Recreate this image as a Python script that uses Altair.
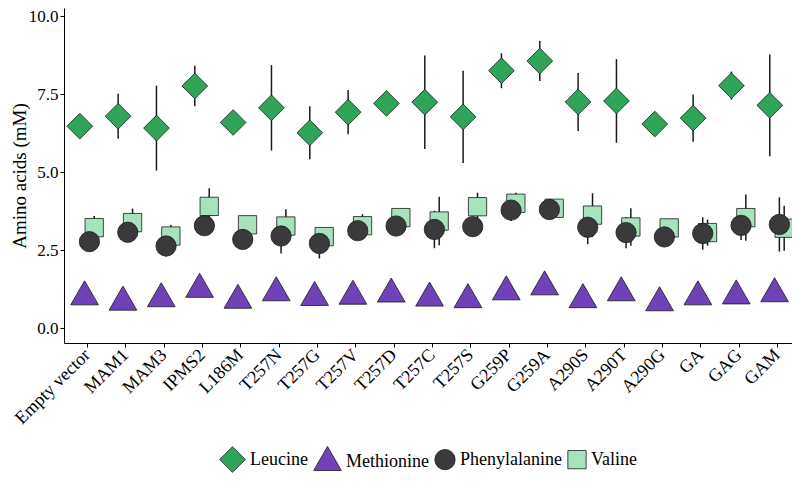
import altair as alt
import pandas as pd

categories = ["Empty vector", "MAM1", "MAM3", "IPMS2", "L186M", "T257N", "T257G",
              "T257V", "T257D", "T257C", "T257S", "G259P", "G259A", "A290S",
              "A290T", "A290G", "GA", "GAG", "GAM"]

leucine = [6.47, 6.79, 6.41, 7.76, 6.59, 7.06, 6.26, 6.92, 7.20, 7.24, 6.77,
           8.25, 8.56, 7.25, 7.28, 6.54, 6.73, 7.77, 7.14]
leucine_sd = [0.10, 0.72, 1.36, 0.65, 0.12, 1.37, 0.85, 0.71, 0.10, 1.50, 1.48,
              0.56, 0.64, 0.93, 1.34, 0.12, 0.76, 0.45, 1.63]

methionine = [1.00, 0.83, 0.94, 1.24, 0.89, 1.13, 0.98, 1.02, 1.09, 0.96, 0.91,
              1.16, 1.32, 0.91, 1.13, 0.81, 1.00, 1.03, 1.10]
methionine_sd = [0.08, 0.06, 0.07, 0.10, 0.05, 0.09, 0.06, 0.07, 0.08, 0.06, 0.05,
                 0.09, 0.10, 0.07, 0.08, 0.05, 0.06, 0.07, 0.09]

phenylalanine = [2.77, 3.07, 2.63, 3.28, 2.84, 2.95, 2.71, 3.12, 3.27, 3.16, 3.25,
                 3.78, 3.80, 3.23, 3.06, 2.92, 3.03, 3.29, 3.32]
phenylalanine_sd = [0.25, 0.20, 0.34, 0.20, 0.20, 0.56, 0.48, 0.20, 0.20, 0.60, 0.20,
                    0.35, 0.15, 0.54, 0.50, 0.20, 0.52, 0.47, 0.87]

valine = [3.22, 3.38, 2.95, 3.90, 3.31, 3.27, 2.93, 3.28, 3.54, 3.43, 3.89,
          4.00, 3.84, 3.62, 3.24, 3.21, 3.06, 3.54, 3.20]
valine_sd = [0.37, 0.45, 0.35, 0.58, 0.20, 0.54, 0.20, 0.37, 0.20, 0.78, 0.45,
             0.34, 0.25, 0.70, 0.60, 0.20, 0.42, 0.74, 0.72]

aa_domain = ["Leucine", "Methionine", "Phenylalanine", "Valine"]
aa_colors = ["#2fa55a", "#6f42b8", "#3a3a3c", "#a6e2bc"]
tri = "M0,-1.155L1,0.577L-1,0.577Z"
aa_shapes = ["diamond", tri, "circle", "square"]
aa_sizes = [660, 770, 412, 335]

rows = []
for name, vals, sds in [("Leucine", leucine, leucine_sd),
                        ("Methionine", methionine, methionine_sd),
                        ("Valine", valine, valine_sd),
                        ("Phenylalanine", phenylalanine, phenylalanine_sd)]:
    for c, v, s in zip(categories, vals, sds):
        rows.append({"cat": c, "aa": name, "mean": v, "lo": v - s, "hi": v + s})
df = pd.DataFrame(rows)

FONT = "Liberation Serif"

x = alt.X("cat:N", sort=categories,
          scale=alt.Scale(type="point", padding=0.496, align=0.605),
          axis=alt.Axis(title=None, labelAngle=315, labelAlign="right",
                        labelBaseline="middle", labelPadding=5,
                        labelFontSize=18))
xoff = alt.XOffset("aa:N", scale=alt.Scale(type="point", domain=aa_domain,
                                           range=[-7.2, 7.2], padding=0))
yscale = alt.Scale(domain=[-0.48, 10.26], nice=False, zero=False)
yaxis = alt.Axis(title="Amino acids (mM)", values=[0, 2.5, 5, 7.5, 10], format=".1f",
                 labelFontSize=17, titleFontSize=19, titleAngle=270,
                 titleBaseline="middle", titleAlign="center",
                 titleX=-45, titleY=167.5)

base = alt.Chart(df)
err = base.mark_rule(color="#1a1a1a", strokeWidth=1.5).encode(
    x=x, xOffset=xoff,
    y=alt.Y("lo:Q", scale=yscale, axis=yaxis),
    y2="hi:Q",
)
pts = base.mark_point(filled=True, opacity=1, stroke="#1a1a1a", strokeWidth=0.8).encode(
    x=x, xOffset=xoff,
    y=alt.Y("mean:Q", scale=yscale, axis=yaxis),
    fill=alt.Fill("aa:N", scale=alt.Scale(domain=aa_domain, range=aa_colors),
                  legend=alt.Legend(title=None, orient="none", direction="horizontal",
                                    legendX=155, legendY=438,
                                    labelFont=FONT, labelFontSize=18, labelColor="black",
                                    symbolStrokeColor="#1a1a1a", symbolStrokeWidth=0.8,
                                    labelOffset=4, columnPadding=4,
                                    symbolOpacity=1)),
    shape=alt.Shape("aa:N", scale=alt.Scale(domain=aa_domain, range=aa_shapes)),
    size=alt.Size("aa:N", scale=alt.Scale(type="ordinal", domain=aa_domain, range=aa_sizes)),
)

chart = alt.layer(err, pts).properties(
    width=728, height=335,
    autosize=alt.AutoSizeParams(type="none"),
    padding={"left": 56, "top": 0, "right": 0, "bottom": 135},
).configure(font=FONT).configure_view(stroke=None).configure_axis(
    grid=False, domainColor="black", tickColor="black", labelColor="black",
    titleColor="black", labelFont=FONT, titleFont=FONT,
    titleFontWeight="normal", tickSize=4, domainWidth=1,
    tickWidth=1,
)

chart.save("out.html", embed_options={"renderer": "svg", "actions": False})
